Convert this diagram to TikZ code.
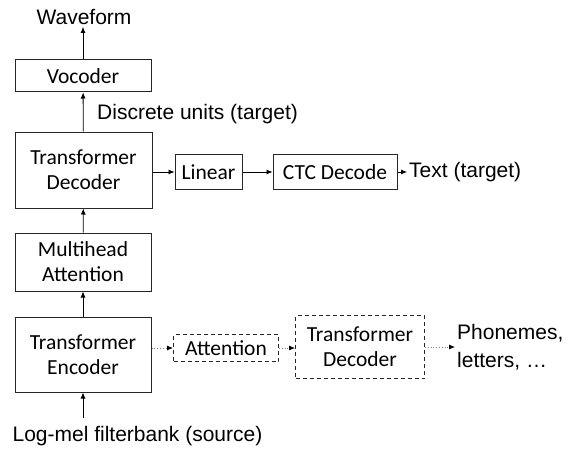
\documentclass[tikz,border=0pt]{standalone}
\usepackage{fontspec}
\setmainfont{Carlito}
\newfontfamily\arialfont{Liberation Sans}
\usetikzlibrary{arrows.meta}
\begin{document}
\begin{tikzpicture}[x=1pt,y=1pt,
		box/.style={draw=black!85,line width=1pt,inner sep=0pt,align=center,
			font=\fontsize{21.5}{25}\selectfont},
		dbox/.style={box,dashed,dash pattern=on 4pt off 3pt},
		lbl/.style={inner sep=2pt,font=\arialfont\fontsize{21}{28}\selectfont},
		pfeil/.style={line width=0.8pt,-{Latex[length=6pt,width=5pt]}},
		dpfeil/.style={gray,line width=0.8pt,dotted,-{Latex[length=6pt,width=5pt,black]}}]
		\useasboundingbox (0,0) rectangle (569,448);
		
		\node[box,minimum width=136,minimum height=32] at (83,372) (voc) {Vocoder};
		\node[box,minimum width=137,minimum height=76] at (83.5,278) (dec) {Transformer\\Decoder};
		\node[box,minimum width=136,minimum height=58] at (83,186) (mha) {Multihead\\Attention};
		\node[box,minimum width=136,minimum height=75] at (83,93.5) (enc) {Transformer\\Encoder};
		
		\node[box,minimum width=67,minimum height=35] at (208.5,276) (lin) {Linear};
		\node[box,minimum width=124,minimum height=35] at (335,276) (ctc) {CTC Decode};
		\node[lbl,anchor=west] at (407,276) (txt) {Text (target)};
		
		\node[dbox,minimum width=105,minimum height=27] at (226,100) (att) {Attention};
		\node[dbox,minimum width=129,minimum height=63] at (360,101) (tdec) {Transformer\\Decoder};
		\node[lbl,anchor=west,align=left] at (455,101) (phon) {Phonemes,\\letters, \dots};
		
		\node[lbl] at (84,431) (wave) {Waveform};
		\node[lbl,anchor=west] at (95,334) (disc) {Discrete units (target)};
		\node[lbl] at (137.5,12) (src) {Log-mel filterbank (source)};
		\coordinate (srcpfeil) at (83,30);
		
		\draw[pfeil] (srcpfeil) -- (enc.south);
		\draw[pfeil] (enc) -- (mha);
		\draw[pfeil] (mha) -- (dec);
		\draw[pfeil] (dec) -- (voc);
		\draw[pfeil] (voc.north) -- (voc.north |- wave.south);
		
		\draw[pfeil] (dec.east |- lin.west) -- (lin.west);
		\draw[pfeil] (lin) -- (ctc);
		\draw[pfeil] (ctc) -- (txt);
		
		\draw[dpfeil] (enc.east |- att.west) -- (att.west);
		\draw[dpfeil] (att) -- (att -| tdec.west);
		\draw[dpfeil] (tdec.east |- phon.west) -- (phon.west);
\end{tikzpicture}
\end{document}
